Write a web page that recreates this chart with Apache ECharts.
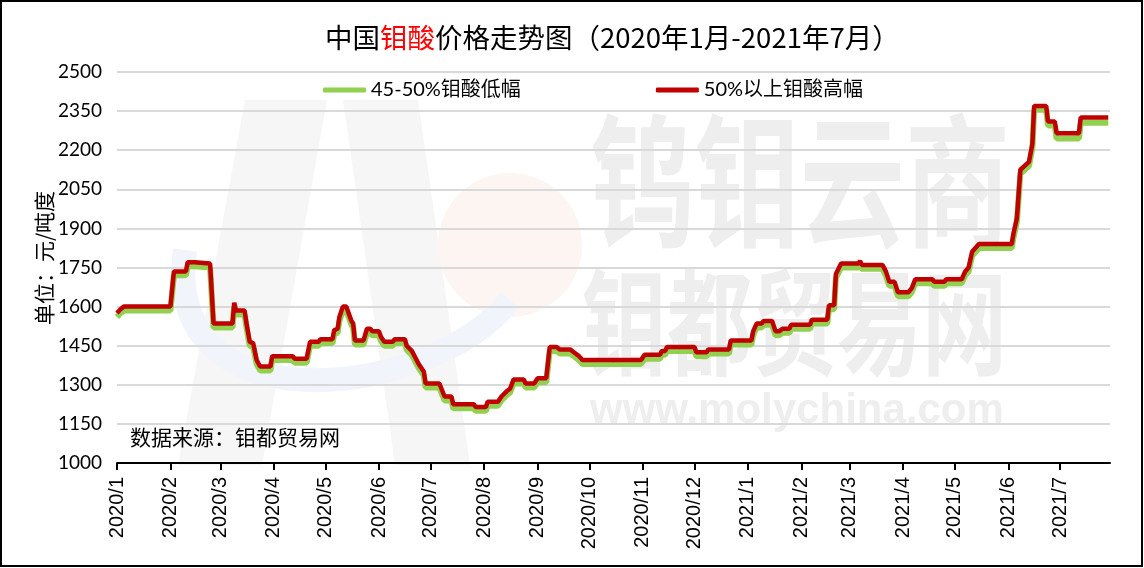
<!DOCTYPE html>
<html>
<head>
<meta charset="utf-8">
<script src="https://cdn.jsdelivr.net/npm/echarts@6.0.0/dist/echarts.min.js"></script>
<style>html,body{margin:0;padding:0;background:#fff;}#c{width:1144px;height:568px;}</style>
</head>
<body>
<div id="c"></div>
<script>
// ---- data ----
const monthLabels = ['2020/1','2020/2','2020/3','2020/4','2020/5','2020/6','2020/7','2020/8','2020/9','2020/10','2020/11','2020/12','2021/1','2021/2','2021/3','2021/4','2021/5','2021/6','2021/7'];
const yTicks = [1000,1150,1300,1450,1600,1750,1900,2050,2200,2350,2500];
const seriesNames = ['45-50%钼酸低幅','50%以上钼酸高幅'];
const xRange = ['2020-01-01','2021-07-30'];
const dates = [
'2020-01-01','2020-01-03','2020-01-05','2020-02-01','2020-02-03','2020-02-10','2020-02-11','2020-02-15','2020-02-16','2020-02-24','2020-02-26',
'2020-03-08','2020-03-09','2020-03-10','2020-03-15','2020-03-16','2020-03-18','2020-03-20','2020-03-22','2020-03-24','2020-03-30','2020-03-31',
'2020-04-12','2020-04-13','2020-04-20','2020-04-22','2020-04-27','2020-04-28',
'2020-05-05','2020-05-06','2020-05-08','2020-05-09','2020-05-11','2020-05-13','2020-05-16','2020-05-17','2020-05-18','2020-05-23','2020-05-25','2020-05-27','2020-05-28',
'2020-06-01','2020-06-02','2020-06-04','2020-06-09','2020-06-10','2020-06-16','2020-06-17','2020-06-20','2020-06-24','2020-06-27','2020-06-28',
'2020-07-06','2020-07-09','2020-07-13','2020-07-14','2020-07-26','2020-07-27',
'2020-08-02','2020-08-03','2020-08-09','2020-08-11','2020-08-14','2020-08-16','2020-08-18','2020-08-24','2020-08-25','2020-08-30',
'2020-09-01','2020-09-06','2020-09-08','2020-09-12','2020-09-14','2020-09-20','2020-09-22','2020-09-25','2020-09-27',
'2020-10-31',
'2020-11-02','2020-11-11','2020-11-12','2020-11-14','2020-11-15',
'2020-12-01','2020-12-02','2020-12-08','2020-12-09','2020-12-21','2020-12-22',
'2021-01-03','2021-01-04','2021-01-06','2021-01-09','2021-01-10','2021-01-15','2021-01-17','2021-01-19','2021-01-21','2021-01-25','2021-01-26',
'2021-02-06','2021-02-07','2021-02-16','2021-02-17','2021-02-20','2021-02-21','2021-02-24',
'2021-03-06','2021-03-07','2021-03-08','2021-03-20','2021-03-22','2021-03-24','2021-03-27','2021-03-29',
'2021-04-04','2021-04-06','2021-04-08','2021-04-18','2021-04-19','2021-04-25','2021-04-26',
'2021-05-05','2021-05-07','2021-05-09','2021-05-11','2021-05-15',
'2021-06-03','2021-06-04','2021-06-06','2021-06-08','2021-06-13','2021-06-15','2021-06-16','2021-06-23','2021-06-24','2021-06-28','2021-06-29',
'2021-07-12','2021-07-13','2021-07-29'
];
const highValues = [
1575,1590,1600,1600,1735,1735,1770,1770,1765,1765,1535,
1535,1615,1585,1585,1540,1465,1460,1395,1370,1370,1410,
1410,1400,1400,1465,1465,1475,
1475,1510,1515,1560,1600,1600,1545,1535,1470,1470,1515,1515,1505,
1505,1485,1465,1465,1475,1475,1450,1430,1380,1350,1305,
1305,1255,1255,1225,1225,1215,
1215,1235,1235,1255,1275,1285,1320,1320,1305,1305,
1325,1325,1445,1445,1435,1435,1425,1410,1395,
1395,
1415,1415,1430,1430,1445,
1445,1425,1425,1435,1435,1470,
1470,1505,1535,1535,1545,1545,1505,1505,1515,1515,1530,
1530,1550,1550,1605,1605,1725,1765,
1765,1775,1760,1760,1735,1695,1695,1655,
1655,1670,1705,1705,1695,1695,1705,
1705,1735,1750,1810,1840,
1840,1880,1940,2125,2155,2225,2370,2370,2310,2310,2265,
2265,2325,2325
];
const lowValues = [
1560,1575,1585,1585,1720,1720,1755,1755,1750,1750,1520,
1520,1600,1570,1570,1525,1450,1445,1380,1355,1355,1395,
1395,1385,1385,1450,1450,1460,
1460,1495,1500,1545,1585,1585,1530,1520,1455,1455,1500,1500,1490,
1490,1470,1450,1450,1460,1460,1435,1415,1365,1335,1290,
1290,1240,1240,1210,1210,1200,
1200,1220,1220,1240,1260,1270,1305,1305,1290,1290,
1310,1310,1430,1430,1420,1420,1410,1395,1380,
1380,
1400,1400,1415,1415,1430,
1430,1410,1410,1420,1420,1455,
1455,1490,1520,1520,1530,1530,1490,1490,1500,1500,1515,
1515,1535,1535,1590,1590,1710,1750,
1750,1760,1745,1745,1720,1680,1680,1640,
1640,1655,1690,1690,1680,1680,1690,
1690,1720,1735,1795,1825,
1825,1865,1925,2110,2140,2210,2355,2355,2295,2295,2245,
2245,2305,2305
];

// ---- build ----
function ts(s) { const p = s.split(/[-\/]/); return new Date(+p[0], +p[1]-1, p[2] ? +p[2] : 1).getTime(); }
const monthTs = monthLabels.map(ts);
const lowData = dates.map((d,i) => [ts(d), lowValues[i]]);
const highData = dates.map((d,i) => [ts(d), highValues[i]]);
const labelOf = {};
monthLabels.forEach((l,i) => { labelOf[monthTs[i]] = l; });

const chart = echarts.init(document.getElementById('c'), null, {renderer:'canvas'});
const wm = '#eeeeee';
chart.setOption({
  animation: false,
  backgroundColor: '#fff',
  title: {
    text: '中国{r|钼酸}价格走势图（2020年1月-2021年7月）',
    left: 320, top: 19,
    textStyle: {fontSize: 27.5, fontWeight: 'normal', color: '#000', fontFamily: '"Noto Sans CJK SC"',
      rich: {r: {fontSize: 27.5, color: '#ff0000', fontFamily: '"Noto Sans CJK SC"'}}}
  },
  legend: {
    data: seriesNames,
    left: 318, top: 75,
    itemWidth: 43, itemHeight: 5, itemGap: 135,
    icon: 'roundRect',
    textStyle: {fontSize: 20, color: '#000', fontFamily: 'Lato, "Noto Sans CJK SC"'}
  },
  grid: {left: 117, right: 34, top: 72, bottom: 105, containLabel: false},
  xAxis: {
    type: 'value',
    min: ts(xRange[0]), max: ts(xRange[1]),
    axisLine: {show: true, lineStyle: {color: '#000', width: 2}},
    axisTick: {show: true, customValues: monthTs, length: 7, lineStyle: {color: '#000', width: 2}},
    axisLabel: {
      customValues: monthTs, rotate: 90, margin: 14, fontSize: 20, color: '#000',
      fontFamily: '"Liberation Sans", Arial',
      formatter: function (v) { return labelOf[v] || ''; }
    },
    splitLine: {show: false}
  },
  yAxis: {
    type: 'value', min: yTicks[0], max: yTicks[yTicks.length-1], interval: yTicks[1]-yTicks[0],
    axisLine: {show: false}, axisTick: {show: false},
    axisLabel: {fontSize: 19, color: '#000', margin: 15, fontFamily: 'Lato', formatter: function (v) { return String(v); }},
    splitLine: {lineStyle: {color: '#d9d9d9', width: 2}}
  },
  graphic: [
    {type: 'polygon', z: -10, shape: {points: [[245,100],[327,100],[262,465],[178,465]]}, style: {fill: '#f6f6f6'}},
    {type: 'polygon', z: -10, shape: {points: [[343,100],[418,100],[470,465],[395,465]]}, style: {fill: '#f6f6f6'}},
    {type: 'circle', z: -9, shape: {cx: 510, cy: 245, r: 72}, style: {fill: '#fdf5f2'}},
    {type: 'bezierCurve', z: -9, shape: {x1: 185, y1: 250, cpx1: 160, cpy1: 430, cpx2: 430, cpy2: 400, x2: 510, y2: 300}, style: {stroke: '#f1f5fb', lineWidth: 24, fill: null}},
    {type: 'text', z: -10, x: 590, y: 108, scaleY: 1.38, style: {text: '钨钼云商', fontSize: 105, fontWeight: 'bold', fontFamily: '"Noto Sans CJK SC"', fill: wm, textVerticalAlign: 'top'}},
    {type: 'text', z: -10, x: 582, y: 265, scaleY: 1.35, style: {text: '钼都贸易网', fontSize: 85, fontWeight: 'bold', fontFamily: '"Noto Sans CJK SC"', fill: wm, textVerticalAlign: 'top'}},
    {type: 'text', z: -10, x: 590, y: 390, style: {text: 'www.molychina.com', fontSize: 42, fontWeight: 'bold', fontFamily: '"Liberation Sans"', fill: wm, textVerticalAlign: 'top'}},
    {type: 'text', x: 44, y: 258, rotation: Math.PI/2, style: {text: '单位：元/吨度', fontSize: 21, fontFamily: '"Noto Sans CJK SC"', fill: '#000', textAlign: 'center', textVerticalAlign: 'middle'}},
    {type: 'text', x: 130, y: 437, style: {text: '数据来源：钼都贸易网', fontSize: 21, fontFamily: '"Noto Sans CJK SC"', fill: '#000', textVerticalAlign: 'middle'}},
    {type: 'rect', z: 100, shape: {x: 1, y: 1, width: 1141, height: 565}, style: {fill: null, stroke: '#000', lineWidth: 2}}
  ],
  series: [
    {name: seriesNames[0], type: 'line', data: lowData, showSymbol: false, symbol: 'none',
     lineStyle: {color: '#92d050', width: 6}, itemStyle: {color: '#92d050'}, z: 2},
    {name: seriesNames[1], type: 'line', data: highData, showSymbol: false, symbol: 'none',
     lineStyle: {color: '#c00000', width: 4.5}, itemStyle: {color: '#c00000'}, z: 3}
  ]
});
</script>
</body>
</html>
